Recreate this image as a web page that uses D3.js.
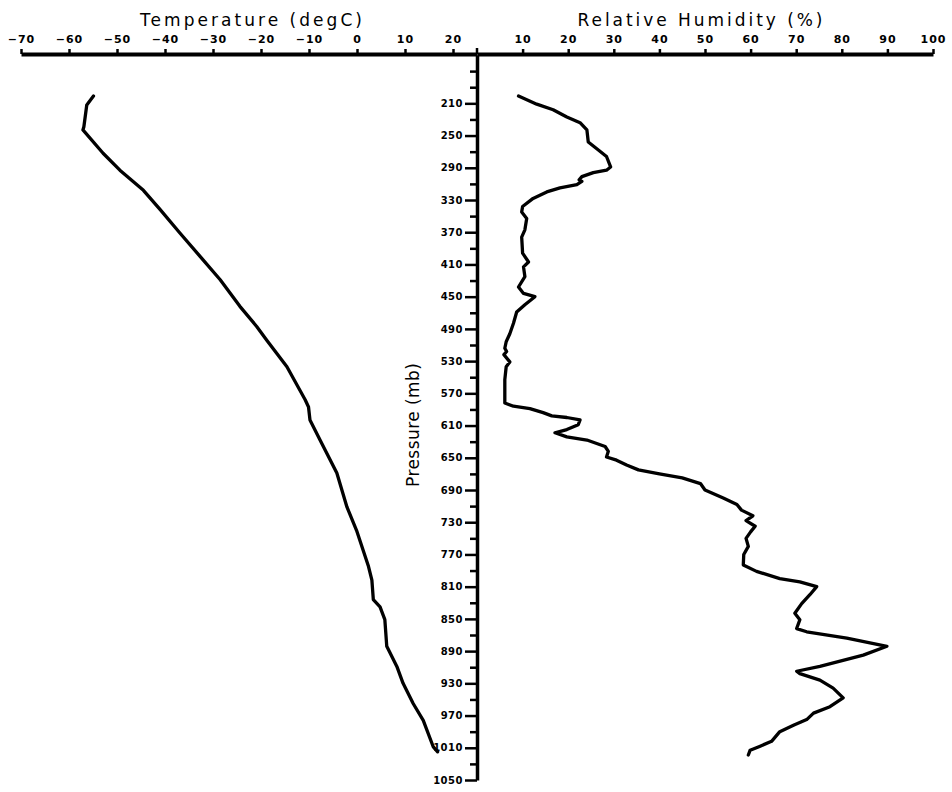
<!DOCTYPE html>
<html>
<head>
<meta charset="utf-8">
<script src="https://cdn.jsdelivr.net/npm/d3@7"></script>
<style>
  body { margin: 0; background: #fff; }
  .tick text { font-family: "DejaVu Sans", sans-serif; font-weight: bold; }
</style>
</head>
<body>
<script>
// sounding values
const tempPressure = [201, 212, 239, 243, 272, 293, 318, 342, 371, 400, 429, 462, 487, 504, 537, 578, 587, 603, 628, 669, 711, 740, 785, 802, 826, 835, 851, 884, 909, 930, 955, 976, 1009, 1015];
const tempValues = [-54.9, -56.3, -56.9, -57.1, -52.9, -49.4, -44.5, -41.0, -36.9, -32.7, -28.5, -24.4, -20.9, -18.8, -14.6, -10.8, -10.1, -9.8, -7.7, -4.2, -2.1, -0.1, 2.4, 3.1, 3.4, 4.8, 5.8, 6.2, 8.3, 9.6, 11.7, 13.8, 15.9, 16.8];

const rhPressure = [201, 211, 218, 227, 234, 243, 258, 266, 276, 289, 293, 296, 301, 305, 307, 311, 315, 320, 328, 338, 345, 353, 367, 376, 396, 407, 413, 425, 438, 446, 450, 460, 469, 483, 496, 506, 514, 518, 522, 531, 537, 553, 582, 586, 589, 594, 598, 600, 603, 609, 615, 619, 624, 628, 636, 642, 649, 653, 659, 665, 670, 675, 682, 690, 700, 708, 715, 722, 728, 735, 742, 750, 760, 770, 783, 791, 800, 804, 810, 820, 831, 843, 851, 862, 866, 874, 884, 895, 909, 915, 918, 926, 936, 948, 959, 967, 975, 982, 990, 1002, 1008, 1013, 1019];
const rhValues = [9.1, 13.1, 16.7, 19.7, 22.6, 24.1, 24.4, 26.2, 28.4, 29.3, 28.4, 25.5, 23.0, 22.4, 23.0, 21.9, 18.2, 15.3, 12.3, 10.0, 9.8, 10.9, 10.5, 9.8, 10.0, 11.3, 10.2, 10.5, 9.1, 10.2, 12.7, 10.5, 8.7, 8.0, 7.2, 6.4, 6.1, 6.5, 5.9, 7.2, 6.4, 6.1, 6.1, 8.0, 11.6, 14.5, 16.4, 19.7, 22.6, 22.2, 19.7, 17.1, 19.7, 24.1, 28.1, 28.8, 28.4, 30.6, 32.8, 35.4, 40.0, 45.0, 49.0, 50.0, 54.0, 57.0, 58.0, 60.5, 59.0, 61.0, 60.0, 59.0, 59.5, 58.5, 58.4, 61.3, 66.4, 70.8, 74.5, 73.0, 71.2, 69.7, 70.8, 70.1, 72.3, 81.1, 89.9, 84.7, 75.2, 70.1, 70.8, 75.2, 78.1, 80.3, 77.4, 73.8, 72.3, 69.4, 66.4, 64.6, 62.1, 59.9, 59.5];

// tick labels
const tempTicks = [-70, -60, -50, -40, -30, -20, -10, 0, 10, 20];
const rhTicks = [10, 20, 30, 40, 50, 60, 70, 80, 90, 100];
const pressureLabels = [210, 250, 290, 330, 370, 410, 450, 490, 530, 570, 610, 650, 690, 730, 770, 810, 850, 890, 930, 970, 1010, 1050];
const pressureMinor = [170, 190, 230, 270, 310, 350, 390, 430, 470, 510, 550, 590, 630, 670, 710, 750, 790, 830, 870, 910, 950, 990, 1030];

const width = 952;
const height = 792;
const axisX = 477;
const axisY = 54;

const svg = d3.select("body")
    .append("svg")
    .attr("width", width)
    .attr("height", height);

const xTemp = d3.scaleLinear().domain([-70, 25]).range([21, axisX]);
const xRh = d3.scaleLinear().domain([0, 100]).range([axisX, 933]);
const yP = d3.scaleLinear().domain([150, 1050]).range([55, 780]);

// top axes (temperature on the left, humidity on the right)
const tempAxis = svg.append("g")
    .attr("transform", `translate(0,${axisY})`)
    .call(d3.axisTop(xTemp).tickValues(tempTicks).tickSize(5).tickPadding(6).tickSizeOuter(0));

const rhAxis = svg.append("g")
    .attr("transform", `translate(0,${axisY})`)
    .call(d3.axisTop(xRh).tickValues(rhTicks).tickSize(5).tickPadding(6).tickSizeOuter(0));

[tempAxis, rhAxis].forEach(g => {
    g.select(".domain").attr("stroke-width", 4);
    g.selectAll(".tick line").attr("stroke-width", 2.5);
    g.selectAll(".tick text")
        .attr("font-size", 11)
        .attr("letter-spacing", 1);
});

// little stub where the pressure axis pokes through the top line
svg.append("line")
    .attr("x1", axisX).attr("x2", axisX)
    .attr("y1", axisY - 6).attr("y2", axisY)
    .attr("stroke", "black")
    .attr("stroke-width", 2.5);

// pressure axis in the middle
const pAxis = svg.append("g")
    .attr("transform", `translate(${axisX},0)`)
    .call(d3.axisLeft(yP).tickValues(pressureLabels).tickSize(12).tickPadding(2).tickSizeOuter(0).tickFormat(d3.format("d")));
pAxis.select(".domain").attr("stroke-width", 3.5);
pAxis.selectAll(".tick line").attr("stroke-width", 2.5);
pAxis.selectAll(".tick text")
    .attr("font-size", 10)
    .attr("letter-spacing", 0.5);

const pMinorAxis = svg.append("g")
    .attr("transform", `translate(${axisX},0)`)
    .call(d3.axisLeft(yP).tickValues(pressureMinor).tickSize(7).tickFormat("").tickSizeOuter(0));
pMinorAxis.select(".domain").remove();
pMinorAxis.selectAll(".tick line").attr("stroke-width", 2.5);

// titles
svg.append("text")
    .attr("x", 251)
    .attr("y", 26)
    .attr("text-anchor", "middle")
    .attr("font-family", "DejaVu Sans, sans-serif")
    .attr("font-size", 17)
    .attr("textLength", 222)
    .attr("lengthAdjust", "spacing")
    .text("Temperature (degC)");

svg.append("text")
    .attr("x", 700)
    .attr("y", 26)
    .attr("text-anchor", "middle")
    .attr("font-family", "DejaVu Sans, sans-serif")
    .attr("font-size", 17)
    .attr("textLength", 245)
    .attr("lengthAdjust", "spacing")
    .text("Relative Humidity (%)");

svg.append("text")
    .attr("transform", "translate(419,425) rotate(-90)")
    .attr("text-anchor", "middle")
    .attr("font-family", "DejaVu Sans, sans-serif")
    .attr("font-size", 17)
    .attr("textLength", 124)
    .attr("lengthAdjust", "spacing")
    .text("Pressure (mb)");

// profiles
const tempData = tempPressure.map((p, i) => ({ p: p, v: tempValues[i] }));
const rhData = rhPressure.map((p, i) => ({ p: p, v: rhValues[i] }));

svg.append("path")
    .datum(tempData)
    .attr("fill", "none")
    .attr("stroke", "black")
    .attr("stroke-width", 3.3)
    .attr("stroke-linejoin", "round")
    .attr("stroke-linecap", "round")
    .attr("d", d3.line().x(d => xTemp(d.v)).y(d => yP(d.p)));

svg.append("path")
    .datum(rhData)
    .attr("fill", "none")
    .attr("stroke", "black")
    .attr("stroke-width", 3.3)
    .attr("stroke-linejoin", "round")
    .attr("stroke-linecap", "round")
    .attr("d", d3.line().x(d => xRh(d.v)).y(d => yP(d.p)));
</script>
</body>
</html>
